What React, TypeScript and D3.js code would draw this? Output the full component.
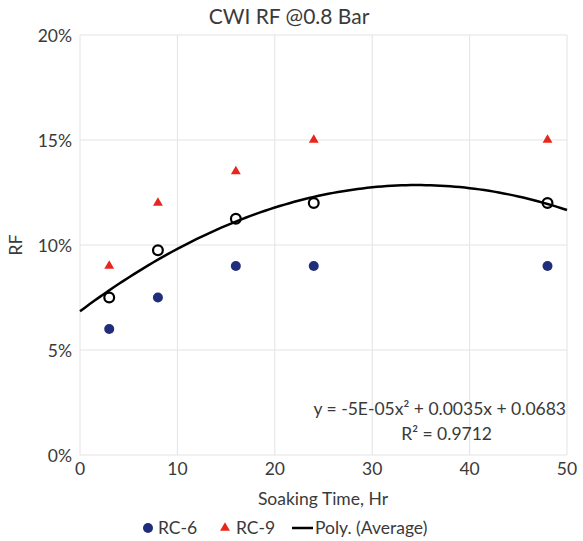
import React from "react";
import * as d3 from "d3";

const hours = [3, 8, 16, 24, 48];
const rc6 = [0.06, 0.075, 0.09, 0.09, 0.09];
const rc9 = [0.09, 0.12, 0.135, 0.15, 0.15];
const average = [0.075, 0.0975, 0.1125, 0.12, 0.12];
const xTicks = [0, 10, 20, 30, 40, 50];
const yTicks = [0, 0.05, 0.1, 0.15, 0.2];
const equationText = "y = -5E-05x² + 0.0035x + 0.0683";
const r2Text = "R² = 0.9712";

const W = 583, H = 541;
const FONT = "Lato, 'Open Sans', sans-serif";

function polyFit2(xs: number[], ys: number[]) {
  const s = (p: number) => d3.sum(xs, (x) => Math.pow(x, p));
  const t = (p: number) => d3.sum(xs, (x, i) => Math.pow(x, p) * ys[i]);
  const M = [
    [s(4), s(3), s(2), t(2)],
    [s(3), s(2), s(1), t(1)],
    [s(2), s(1), xs.length, t(0)],
  ];
  for (let i = 0; i < 3; i++) {
    for (let k = i + 1; k < 3; k++) {
      const f = M[k][i] / M[i][i];
      for (let j = i; j < 4; j++) M[k][j] -= f * M[i][j];
    }
  }
  const r = [0, 0, 0];
  for (let i = 2; i >= 0; i--) {
    let v = M[i][3];
    for (let j = i + 1; j < 3; j++) v -= M[i][j] * r[j];
    r[i] = v / M[i][i];
  }
  return r;
}

export default function App() {
  const x = d3.scaleLinear().domain([0, 50]).range([80, 567]);
  const y = d3.scaleLinear().domain([0, 0.2]).range([455, 35]);
  const [a, b, c] = polyFit2(hours, average);
  const curvePts = d3.range(0, 50.01, 0.5).map((h) => [h, a * h * h + b * h + c] as [number, number]);
  const line = d3.line<[number, number]>().x((d) => x(d[0])).y((d) => y(d[1]));
  const tri = d3.symbol().type(d3.symbolTriangle).size(42)();
  const blue = "#1f2d7a";
  const red = "#e8261c";
  const grid = "#e3e3e3";
  const txt = "#3a3a3a";

  return (
    <svg width={W} height={H} style={{ position: "absolute", left: 0, top: 0, background: "#fff" }} fontFamily={FONT}>
      <rect width={W} height={H} fill="#fff" />
      <text x={289} y={24} textAnchor="middle" fontSize={21} fill={txt}>CWI RF @0.8 Bar</text>
      {xTicks.map((t) => (
        <line key={"gx" + t} x1={x(t)} x2={x(t)} y1={y(0.2)} y2={y(0)} stroke={grid} strokeWidth={1} />
      ))}
      {yTicks.map((t) => (
        <line key={"gy" + t} x1={x(0)} x2={x(50)} y1={y(t)} y2={y(t)} stroke={grid} strokeWidth={1} />
      ))}
      {yTicks.map((t) => (
        <text key={"ly" + t} x={72} y={y(t) + 7} textAnchor="end" fontSize={17.5} fill={txt}>
          {d3.format(".0%")(t)}
        </text>
      ))}
      {xTicks.map((t) => (
        <text key={"lx" + t} x={x(t)} y={475} textAnchor="middle" fontSize={17.5} fill={txt}>
          {t}
        </text>
      ))}
      <text x={323} y={505} textAnchor="middle" fontSize={17.5} fill={txt}>Soaking Time, Hr</text>
      <text transform={`translate(22,${y(0.1)}) rotate(-90)`} textAnchor="middle" fontSize={18} fill={txt}>RF</text>

      {hours.map((h, i) => (
        <circle key={"b" + i} cx={x(h)} cy={y(rc6[i])} r={5} fill={blue} />
      ))}
      {hours.map((h, i) => (
        <path key={"r" + i} d={tri!} transform={`translate(${x(h)},${y(rc9[i])})`} fill={red} />
      ))}
      {hours.map((h, i) => (
        <circle key={"a" + i} cx={x(h)} cy={y(average[i])} r={4.9} fill="none" stroke="#000" strokeWidth={2.2} />
      ))}
      <path d={line(curvePts)!} fill="none" stroke="#000" strokeWidth={2.5} />

      <text x={566} y={415} textAnchor="end" fontSize={17.5} fill={txt}>{equationText}</text>
      <text x={492} y={440} textAnchor="end" fontSize={17.5} fill={txt}>{r2Text}</text>

      <circle cx={148} cy={528} r={5} fill={blue} />
      <text x={158} y={534} fontSize={17.5} fill={txt}>RC-6</text>
      <path d={tri!} transform="translate(225,528)" fill={red} />
      <text x={236} y={534} fontSize={17.5} fill={txt}>RC-9</text>
      <line x1={292} x2={313} y1={528} y2={528} stroke="#000" strokeWidth={2.5} />
      <text x={315} y={534} fontSize={17.5} fill={txt}>Poly. (Average)</text>
    </svg>
  );
}
